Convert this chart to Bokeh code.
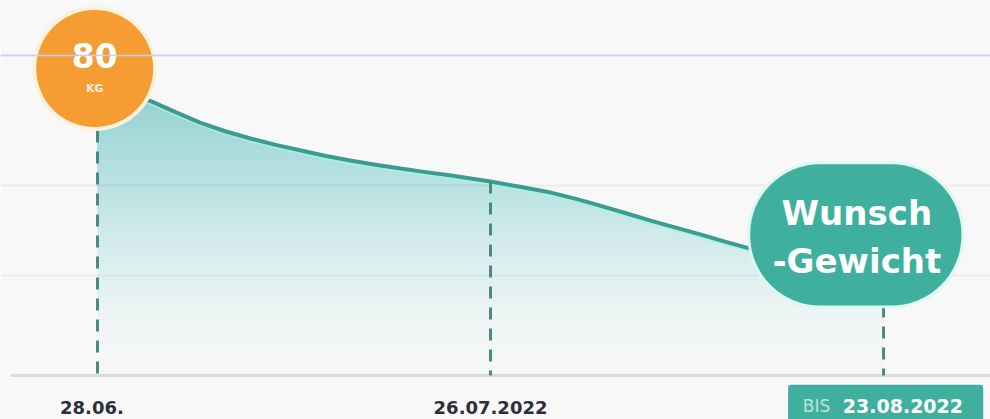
from bokeh.plotting import figure
from bokeh.models import Range1d, FixedTicker, Span
from bokeh.core.properties import value
from bokeh.embed import file_html
from bokeh.resources import INLINE

# ---- data ----
days = [0, 1.9, 3.8, 5.6, 7.3, 9.1, 10.9, 12.7, 14.5, 16.2, 18.0, 19.8, 21.6, 23.4, 25.2,
        26.6, 28.0, 30.1, 32.3, 34.1, 35.8, 37.6, 39.4, 41.2, 43.0, 44.7, 46.5, 49.0, 52.0, 56.0]
weight = [80.3, 80.0, 79.6, 78.8, 78.07, 77.45, 76.93, 76.48, 76.07, 75.7, 75.36, 75.06, 74.79,
          74.53, 74.29, 74.08, 73.86, 73.48, 73.07, 72.62, 72.14, 71.61, 71.07, 70.57, 70.07,
          69.57, 69.07, 68.3, 67.5, 66.6]
date_days = [-0.4, 28]
date_labels = ["28.06.", "26.07.2022"]
goal_day = 56
goal_label = "23.08.2022"
start_weight_label = "80"
unit_label = "KG"
goal_text = ["Wunsch", "-Gewicht"]
base = 60.0
grid_levels = [82.86, 73.6, 67.14]

TEAL = "#3fb09e"
LINE = "#3c9c8f"
DASH = "#4b8a84"
ORANGE = "#f59c33"
BG = "#f8f8f8"
FONT = value("DejaVu Sans")

p = figure(width=990, height=419, output_backend="svg", toolbar_location=None,
           x_range=Range1d(-6.91, 63.62), y_range=Range1d(56.86, 86.79),
           min_border=0, background_fill_color=BG, border_fill_color=BG,
           outline_line_color=None)
p.axis.visible = False
p.xgrid.visible = False
p.ygrid.ticker = FixedTicker(ticks=grid_levels)
p.ygrid.grid_line_color = "#ececec"
p.ygrid.grid_line_width = 2

# baseline
p.segment(x0=[-6.2], y0=[base], x1=[63.62], y1=[base], line_color="#dcdcdc", line_width=3)

# gradient fill: stacked translucent layers, denser towards the top
N = 40
top = max(weight)
for k in range(N):
    lvl = base + (top - base) * (k / N) ** (1 / 1.6)
    lows = [min(lvl, w) for w in weight]
    p.varea(x=days, y1=lows, y2=weight, fill_color="#4cb8b0", fill_alpha=0.016)

# curve
p.line(days, [w - 0.12 for w in weight], line_color="#a6f3ea", line_width=4, line_alpha=0.8)
p.line(days, weight, line_color=LINE, line_width=4)

# dashed verticals
p.segment(x0=[0], y0=[77.5], x1=[0], y1=[base], line_color=DASH, line_width=3, line_dash="12 9")
p.segment(x0=[28], y0=[73.86], x1=[28], y1=[base], line_color=DASH, line_width=3, line_dash="12 9")
p.segment(x0=[goal_day], y0=[65], x1=[goal_day], y1=[base], line_color=DASH, line_width=3, line_dash="12 9")

# orange start badge
p.scatter(x=[-0.2], y=[81.93], size=125, marker="circle", fill_color="#fdf3dc", line_color=None)
p.scatter(x=[-0.2], y=[81.93], size=117, marker="circle", fill_color=ORANGE, line_color=None)
p.text(x=[-0.2], y=[82.85], text=[start_weight_label], text_color="white", text_font=FONT,
       text_font_style="bold", text_font_size="33px", text_align="center", text_baseline="middle")
p.text(x=[-0.2], y=[80.5], text=[unit_label], text_color="#fff3e0", text_font=FONT,
       text_font_style="bold", text_font_size="11px", text_align="center", text_baseline="middle")

top_line = Span(location=grid_levels[0], dimension="width", line_color="#c4cdf2", line_width=1.5)
p.add_layout(top_line)

# goal pill
p.quad(left=[46.3], right=[61.75], top=[75.3], bottom=[64.8], fill_color="#dff7f1", line_color=None,
       border_radius=72)
p.quad(left=[46.5], right=[61.55], top=[75.1], bottom=[65.0], fill_color=TEAL, line_color=None,
       border_radius=70)
p.text(x=[54.1], y=[71.6], text=[goal_text[0]], text_color="white", text_font=FONT,
       text_font_style="bold", text_font_size="34px", text_align="center", text_baseline="middle")
p.text(x=[54.1], y=[68.15], text=[goal_text[1]], text_color="white", text_font=FONT,
       text_font_style="bold", text_font_size="34px", text_align="center", text_baseline="middle")

# date labels
p.text(x=date_days, y=[57.72, 57.72], text=date_labels, text_color="#2e2e3a", text_font=FONT,
       text_font_style="bold", text_font_size="18px", text_align="center", text_baseline="middle")

# BIS box
p.quad(left=[49.2], right=[63.1], top=[59.35], bottom=[56.5], fill_color=TEAL, line_color=None, border_radius=3)
p.text(x=[50.25], y=[57.8], text=["BIS"], text_color="#b9e6de", text_font=FONT,
       text_font_size="17px", text_align="left", text_baseline="middle")
p.text(x=[53.1], y=[57.8], text=[goal_label], text_color="white", text_font=FONT,
       text_font_style="bold", text_font_size="19px", text_align="left", text_baseline="middle")

open("out.html", "w").write(file_html(p, INLINE))
